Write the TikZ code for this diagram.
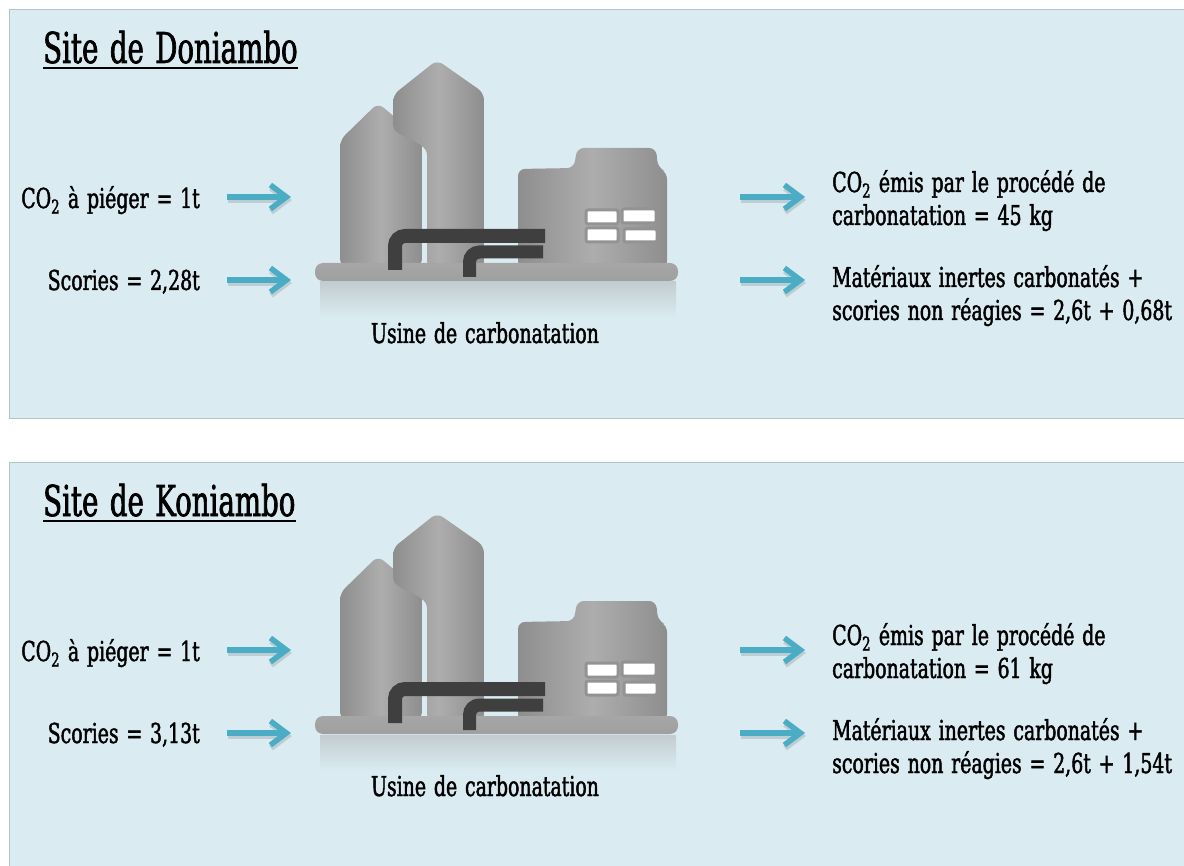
\documentclass[tikz,border=0pt]{standalone}
\usepackage{fontspec}
\setmainfont[FakeStretch=0.69, FakeBold=1.6, WordSpace=1.3]{DejaVu Serif}
\newfontfamily\titlefont[FakeStretch=0.65, FakeBold=1.6, WordSpace=1.3]{DejaVu Serif}
\usepackage{tikz}
\usetikzlibrary{arrows.meta,positioning}

\definecolor{panelbg}{HTML}{DAECF2}
\definecolor{panelline}{HTML}{B3C4C9}
\definecolor{flowblue}{HTML}{4BACC6}
\definecolor{silogray}{HTML}{A6A6A6}
\definecolor{silodark}{HTML}{8E8E8E}
\definecolor{pipegray}{HTML}{3F3F3F}

\tikzset{
	panel/.style={fill=panelbg, draw=panelline, line width=1pt},
	sitetitle/.style={font=\titlefont\fontsize{42.5}{50}\selectfont, anchor=base west, inner sep=0pt},
	flowtext/.style={font=\fontsize{27.4}{33}\selectfont, inner sep=0pt},
	flow/.style={line width=5.5pt, flowblue, -{Straight Barb[length=16pt,width=24pt]}},
	flowshadow/.style={line width=6pt, black, opacity=0.13, -{Straight Barb[length=16pt,width=24pt]}},
	silo/.style={left color=silodark, right color=silodark, middle color=silogray!92!white, rounded corners=7pt},
	pipe/.style={draw=pipegray, line width=14pt, rounded corners=10pt},
	window/.style={draw=gray!85, fill=white, line width=3pt, rounded corners=2pt},
	usine/.pic={
		% reflet sous la plateforme
		\shade[top color=silogray!45!panelbg, bottom color=panelbg] (320,282) rectangle (676,318);
		% silos
		\shade[silo] (340,266) -- (340,140) -- (378,103) -- (422,140) -- (422,266) -- cycle;
		\shade[silo] (427,268) -- (427,162) .. controls (427,140) and (393,138) .. (393,118) -- (393,95) -- (437,60) -- (484,93) -- (484,268) -- cycle;
		% batiment
		\shade[silo] (518,268) -- (518,169) -- (574,168) -- (577,148) -- (656,148) -- (658,168) -- (667,172) -- (667,268) -- cycle;
		\draw[window] (586,210) rectangle (618,224);
		\draw[window] (622,209) rectangle (656,223);
		\draw[window] (586,228) rectangle (618,242);
		\draw[window] (624,229) rectangle (657,242);
		% plateforme
		\shade[top color=silogray, bottom color=gray!75, rounded corners=8pt] (315,263) rectangle (678,281);
		% tuyaux
		\draw[pipe] (395,270) -- (395,236) -- (545,236);
		\draw[pipe, line width=13pt] (469.5,277) -- (469.5,252) -- (543,252);
	}
}

\begin{document}
\begin{tikzpicture}[x=1pt, y=-1pt]
	\useasboundingbox (0,0) rectangle (1184,866);
	\fill[white] (0,0) rectangle (1184,866);

	% Doniambo
	\draw[panel] (9.5,10) rectangle (1190,419);
	\node[sitetitle] (dtitle) at (43,63) {Site de Doniambo};
	\draw[line width=2pt] ([yshift=-5pt]dtitle.base west) -- ([yshift=-5pt]dtitle.base east);
	\pic at (0,0) {usine};
	\node[flowtext, anchor=base] (dusine) at (485,343) {Usine de carbonatation};

	\node[flowtext, anchor=base east] (dco2) at (200,208) {CO\textsubscript{2} à piéger = 1t};
	\node[flowtext, anchor=base east] (dscories) at (200,290) {Scories = 2,28t};
	\node[flowtext, anchor=base west] (demis) at (832,192) {CO\textsubscript{2} émis par le procédé de};
	\node[flowtext, anchor=base west] (demis2) at (832,225) {carbonatation = 45 kg};
	\node[flowtext, anchor=base west] (dmat) at (832,287) {Matériaux inertes carbonatés +};
	\node[flowtext, anchor=base west] (dmat2) at (832,320) {scories non réagies = 2,6t + 0,68t};

	\coordinate (din1) at (227,197);  \coordinate (din1e) at (291,197);
	\coordinate (din2) at (227,280);  \coordinate (din2e) at (291,280);
	\coordinate (dout1) at (740,197); \coordinate (dout1e) at (805,197);
	\coordinate (dout2) at (740,280); \coordinate (dout2e) at (805,280);
	\foreach \a in {din1,din2,dout1,dout2}{
		\draw[flowshadow] ([shift={(1pt,-3pt)}]\a) -- ([shift={(1pt,-3pt)}]\a e);
		\draw[flow] (\a) -- (\a e);
	}

	% Koniambo
	\draw[panel] (9.5,463) rectangle (1190,872);
	\node[sitetitle] (ktitle) at (43,516) {Site de Koniambo};
	\draw[line width=2pt] ([yshift=-5pt]ktitle.base west) -- ([yshift=-5pt]ktitle.base east);
	\pic at (0,453) {usine};
	\node[flowtext, anchor=base] (kusine) at (485,796) {Usine de carbonatation};

	\node[flowtext, anchor=base east] (kco2) at (200,661) {CO\textsubscript{2} à piéger = 1t};
	\node[flowtext, anchor=base east] (kscories) at (200,743) {Scories = 3,13t};
	\node[flowtext, anchor=base west] (kemis) at (832,645) {CO\textsubscript{2} émis par le procédé de};
	\node[flowtext, anchor=base west] (kemis2) at (832,678) {carbonatation = 61 kg};
	\node[flowtext, anchor=base west] (kmat) at (832,740) {Matériaux inertes carbonatés +};
	\node[flowtext, anchor=base west] (kmat2) at (832,773) {scories non réagies = 2,6t + 1,54t};

	\coordinate (kin1) at (227,650);  \coordinate (kin1e) at (291,650);
	\coordinate (kin2) at (227,733);  \coordinate (kin2e) at (291,733);
	\coordinate (kout1) at (740,650); \coordinate (kout1e) at (805,650);
	\coordinate (kout2) at (740,733); \coordinate (kout2e) at (805,733);
	\foreach \a in {kin1,kin2,kout1,kout2}{
		\draw[flowshadow] ([shift={(1pt,-3pt)}]\a) -- ([shift={(1pt,-3pt)}]\a e);
		\draw[flow] (\a) -- (\a e);
	}
\end{tikzpicture}
\end{document}
